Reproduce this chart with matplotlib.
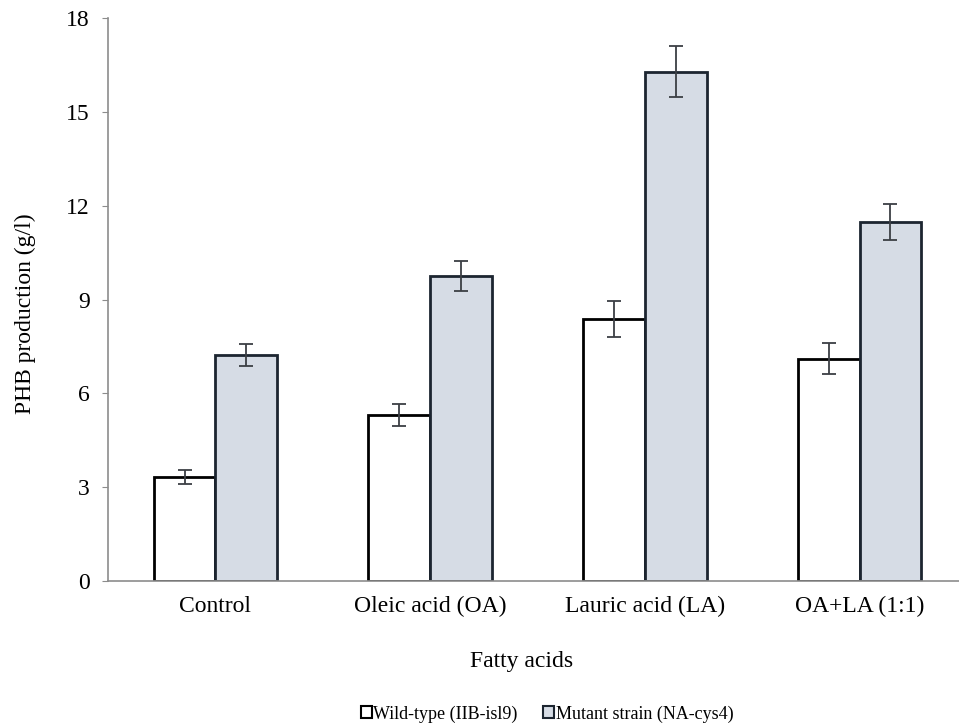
#!/usr/bin/env python3

import numpy as np
import matplotlib
matplotlib.use("Agg")
import matplotlib.pyplot as plt

categories = ["Control", "Oleic acid (OA)", "Lauric acid (LA)", "OA+LA (1:1)"]
wild_type = [3.32, 5.30, 8.38, 7.11]
wild_type_err = [0.23, 0.36, 0.58, 0.50]
mutant = [7.23, 9.75, 16.29, 11.49]
mutant_err = [0.35, 0.49, 0.82, 0.57]
series_names = ["Wild-type (IIB-isl9)", "Mutant strain (NA-cys4)"]

plt.rcParams["font.family"] = ["Liberation Serif", "DejaVu Serif"]
plt.rcParams["font.size"] = 17

fig = plt.figure(figsize=(9.59, 7.28), dpi=100)
# axis runs past the right edge of the figure, like the source layout
ax = fig.add_axes([108 / 959, 1 - 580.7 / 728, 859 / 959, 562.4 / 728])

x = np.arange(len(categories))
w = 0.287
err_kw = dict(ecolor="#3c3f44", elinewidth=1.3, capsize=5, capthick=1.3)

ax.bar(x - w / 2, wild_type, w, yerr=wild_type_err, color="white",
       edgecolor="black", linewidth=2, label=series_names[0], error_kw=err_kw)
ax.bar(x + w / 2, mutant, w, yerr=mutant_err, color="#d6dce5",
       edgecolor="#1c2530", linewidth=2, label=series_names[1], error_kw=err_kw)

ax.set_xlim(-0.5, 3.5)
ax.set_ylim(0, 18)
ax.set_yticks(range(0, 19, 3))
ax.set_xticks(x)
ax.set_xticklabels(categories)

for side in ["top", "right"]:
    ax.spines[side].set_visible(False)
ax.spines["left"].set_color("#8c8c8c")
ax.spines["bottom"].set_color("#8c8c8c")
ax.spines["left"].set_linewidth(1.2)
ax.spines["bottom"].set_linewidth(1.2)
ax.tick_params(axis="y", direction="out", length=4, color="#8c8c8c", pad=9, labelsize=17)
ax.tick_params(axis="x", length=0, pad=11, labelsize=17)

fig.text(25 / 959, 1 - 314 / 728, "PHB production (g/l)", rotation=90,
         ha="center", va="center", fontsize=17)
fig.text(522 / 959, 1 - 662 / 728, "Fatty acids", ha="center", va="center", fontsize=17)

leg = fig.legend(loc="center", bbox_to_anchor=(547 / 959, 1 - 714 / 728), ncol=2,
                 frameon=False, fontsize=13, handlelength=0.6, handleheight=0.6,
                 handletextpad=0.1, columnspacing=1.4)
for h in leg.legend_handles:
    h.set_linewidth(1.5)

fig.savefig("out.png", dpi=100)
